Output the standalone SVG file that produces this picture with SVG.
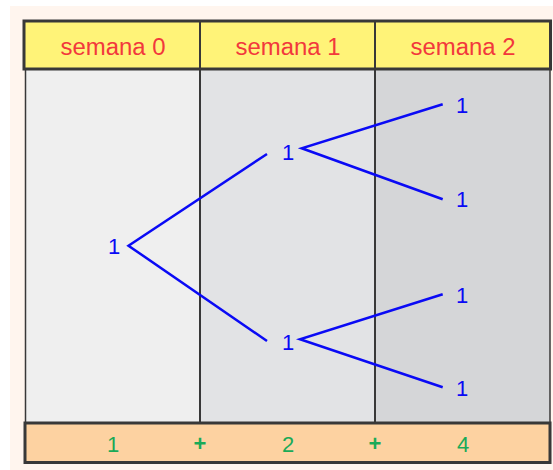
<svg xmlns="http://www.w3.org/2000/svg" width="553" height="470" viewBox="0 0 553 470">
<style>
.hdr{font-family:"Liberation Sans",Arial,sans-serif;font-size:23.5px;fill:#F2383C;text-anchor:middle}
.node{font-family:"Liberation Sans",Arial,sans-serif;font-size:22px;fill:#0A0AF5;text-anchor:middle}
.sum{font-family:"Liberation Sans",Arial,sans-serif;font-size:22px;fill:#1AAA58;text-anchor:middle}
.plus{font-weight:bold}
.edge{stroke:#0A0AF5;stroke-width:2.5;fill:none;stroke-linecap:butt}
.grid{stroke:#383838;fill:none}
.hband{fill:#FFF378;stroke:#383838;stroke-width:3}
.fband{fill:#FDD2A1;stroke:#383838;stroke-width:3}
</style>
<rect x="10" y="6" width="543" height="464" fill="#FFF5EE"/>
<g id="columns">
<rect x="25" y="69" width="175" height="354" fill="#EFEFEF"/>
<rect x="200" y="69" width="175" height="354" fill="#E2E3E5"/>
<rect x="375" y="69" width="175" height="354" fill="#D5D6D8"/>
</g>
<g id="header">
<rect x="24" y="21" width="526.5" height="48" class="hband"/>
<line x1="200" y1="21" x2="200" y2="69" class="grid" stroke-width="2"/>
<line x1="375" y1="21" x2="375" y2="69" class="grid" stroke-width="2"/>
<text class="hdr" x="113" y="54.5" textLength="105" lengthAdjust="spacingAndGlyphs">semana 0</text>
<text class="hdr" x="288" y="54.5" textLength="105" lengthAdjust="spacingAndGlyphs">semana 1</text>
<text class="hdr" x="463" y="54.5" textLength="105" lengthAdjust="spacingAndGlyphs">semana 2</text>
</g>
<g id="body-grid">
<line x1="25.5" y1="69" x2="25.5" y2="423" class="grid" stroke-width="1.5" stroke="#555"/>
<line x1="550" y1="69" x2="550" y2="423" class="grid" stroke-width="1.5" stroke="#555"/>
<line x1="200" y1="69" x2="200" y2="423" class="grid" stroke-width="2"/>
<line x1="375" y1="69" x2="375" y2="423" class="grid" stroke-width="2"/>
</g>
<g id="connectors">
<polyline class="edge" points="267,154 128.5,245.7 267,341"/>
<polyline class="edge" points="442.7,104.3 301.7,148.3 442.7,199.3"/>
<polyline class="edge" points="442.7,294.3 300,339.3 442.7,387.3"/>
</g>
<g id="node-root"><text class="node" x="114" y="254">1</text></g>
<g id="node-1a"><text class="node" x="288" y="160">1</text></g>
<g id="node-1b"><text class="node" x="288" y="349.5">1</text></g>
<g id="node-2a"><text class="node" x="462" y="112.7">1</text></g>
<g id="node-2b"><text class="node" x="462" y="206.7">1</text></g>
<g id="node-2c"><text class="node" x="462" y="302.7">1</text></g>
<g id="node-2d"><text class="node" x="462" y="396">1</text></g>
<g id="footer">
<rect x="25" y="423" width="525" height="39.5" class="fband"/>
<text class="sum" x="113" y="452">1</text>
<text class="sum plus" x="200" y="451">+</text>
<text class="sum" x="288" y="452">2</text>
<text class="sum plus" x="375" y="451">+</text>
<text class="sum" x="463" y="452">4</text>
</g>
</svg>
